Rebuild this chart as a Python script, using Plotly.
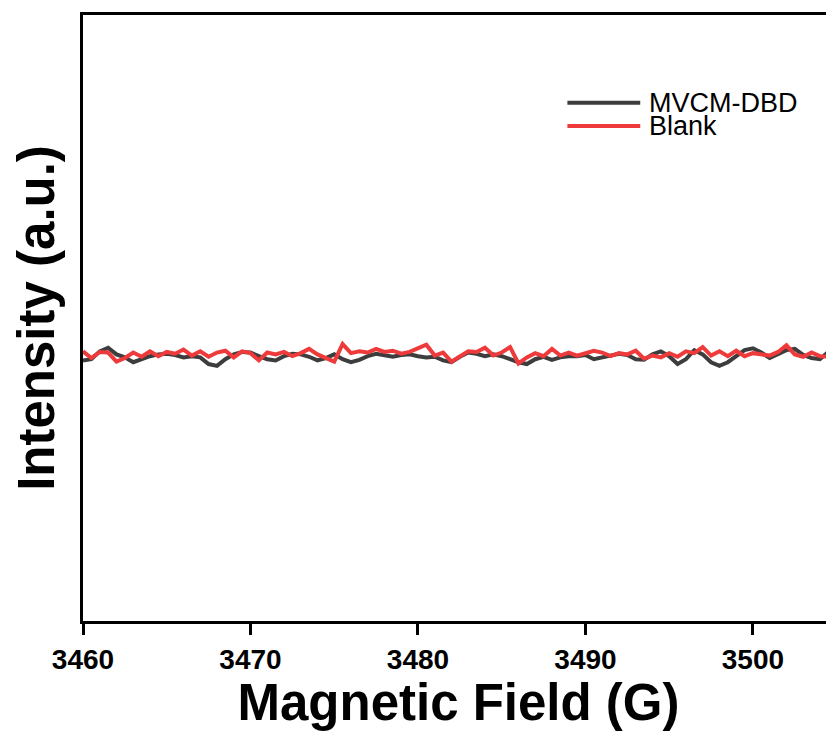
import plotly.graph_objects as go

# EPR noise traces, field in G, intensity in a.u. (0.5 G steps)
field = [3460 + 0.5 * i for i in range(91)]

mvcm_dbd = [
    -1.0, -0.8, 0.5, 1.1, 0.0, -0.5, -1.3, -0.8, -0.3, 0.0,
    0.1, -0.1, -0.5, -0.3, -0.5, -1.6, -1.9, -0.8, 0.0, 0.4,
    0.3, -0.3, -0.8, -1.0, -0.3, 0.1, 0.0, -0.4, -1.0, -0.6,
    0.0, -0.8, -1.3, -0.9, -0.3, 0.1, -0.1, -0.4, -0.1, 0.0,
    -0.3, -0.5, -0.4, -1.0, -1.3, -0.4, 0.3, 0.1, -0.3, 0.0,
    -0.3, -0.8, -1.3, -1.6, -0.8, -0.4, -0.9, -0.5, -0.3, -0.3,
    -0.1, -0.8, -0.5, -0.1, 0.1, -0.1, -0.8, -0.9, 0.0, 0.5,
    -0.3, -1.6, -0.8, 0.7, 0.0, -1.3, -1.9, -1.3, -0.3, 0.7,
    1.0, 0.3, -0.6, 0.0, 0.7, 0.9, -0.1, -0.6, -0.8, 0.4,
    0.7,
]

blank = [
    0.5, -0.6, 0.4, 0.3, -1.2, -0.6, 0.3, -0.4, 0.5, -0.3,
    0.4, 0.1, 0.8, -0.2, 0.5, -0.4, 0.3, 0.6, -0.5, 0.5,
    0.2, -1.0, 0.3, 0.0, 0.4, -0.3, 0.2, 0.9, 0.0, -0.6,
    -1.2, 1.7, 0.2, 0.5, 0.3, 0.9, 0.4, 0.6, 0.1, 0.4,
    1.0, 1.6, -0.2, 0.3, -1.2, -0.4, 0.5, 0.4, 1.1, -0.2,
    0.3, 1.2, -1.5, -0.5, 0.2, -0.3, 0.9, -0.2, 0.3, -0.2,
    0.2, 0.6, 0.3, -0.3, 0.2, 0.0, 0.6, -0.7, -0.2, -0.5,
    0.2, -0.4, 0.5, 0.2, 1.2, -0.2, 0.5, -0.3, 0.6, -0.3,
    0.2, 0.0, -0.2, 0.4, 1.5, 0.0, -0.4, 0.3, -0.3, -0.4,
    -0.2,
]

names = ["MVCM-DBD", "Blank"]
colors = ["#3d3d3d", "#ee3a3a"]
x_ticks = [3460, 3470, 3480, 3490, 3500]

FONT = "Liberation Sans, Arial, sans-serif"

fig = go.Figure()
for ys, name, col in zip([mvcm_dbd, blank], names, colors):
    fig.add_trace(go.Scatter(
        x=field, y=ys, name=name, mode="lines",
        line={"color": col, "width": 4},
        showlegend=False,
    ))

# legend drawn by hand so the line samples are long like the original
leg_y = [0.855, 0.817]
for name, col, ly in zip(names, colors, leg_y):
    fig.add_shape(type="line", xref="paper", yref="paper",
                  x0=0.645, x1=0.742, y0=ly, y1=ly,
                  line={"color": col, "width": 4})
    fig.add_annotation(x=0.751, y=ly, xref="paper", yref="paper",
                       text=name, showarrow=False,
                       xanchor="left", yanchor="middle",
                       font={"family": FONT, "size": 27, "color": "black"})

# page has an 8px body margin, so the figure is 8px smaller than the window
fig.update_layout(
    width=826,
    height=723,
    margin={"l": 75, "r": 0, "t": 7, "b": 110},
    plot_bgcolor="white",
    paper_bgcolor="white",
    font={"family": FONT, "color": "black"},
    xaxis={
        "range": [3460, 3504.84],
        "tickvals": x_ticks,
        "ticktext": [str(t) for t in x_ticks],
        "ticks": "outside",
        "ticklen": 11,
        "tickwidth": 3,
        "tickcolor": "black",
        "showline": True,
        "linewidth": 3,
        "linecolor": "black",
        "mirror": True,
        "showgrid": False,
        "zeroline": False,
        "tickfont": {"size": 28, "weight": "bold"},
        "title": {"text": "Magnetic Field (G)",
                  "font": {"size": 51, "weight": "bold"},
                  "standoff": 6},
    },
    yaxis={
        "range": [-44, 56],
        "showticklabels": False,
        "ticks": "",
        "showline": True,
        "linewidth": 3,
        "linecolor": "black",
        "mirror": False,
        "showgrid": False,
        "zeroline": False,
        "title": {"text": "Intensity (a.u.)",
                  "font": {"size": 51, "weight": "bold"},
                  "standoff": 12},
    },
)

fig.write_html("out.html")
